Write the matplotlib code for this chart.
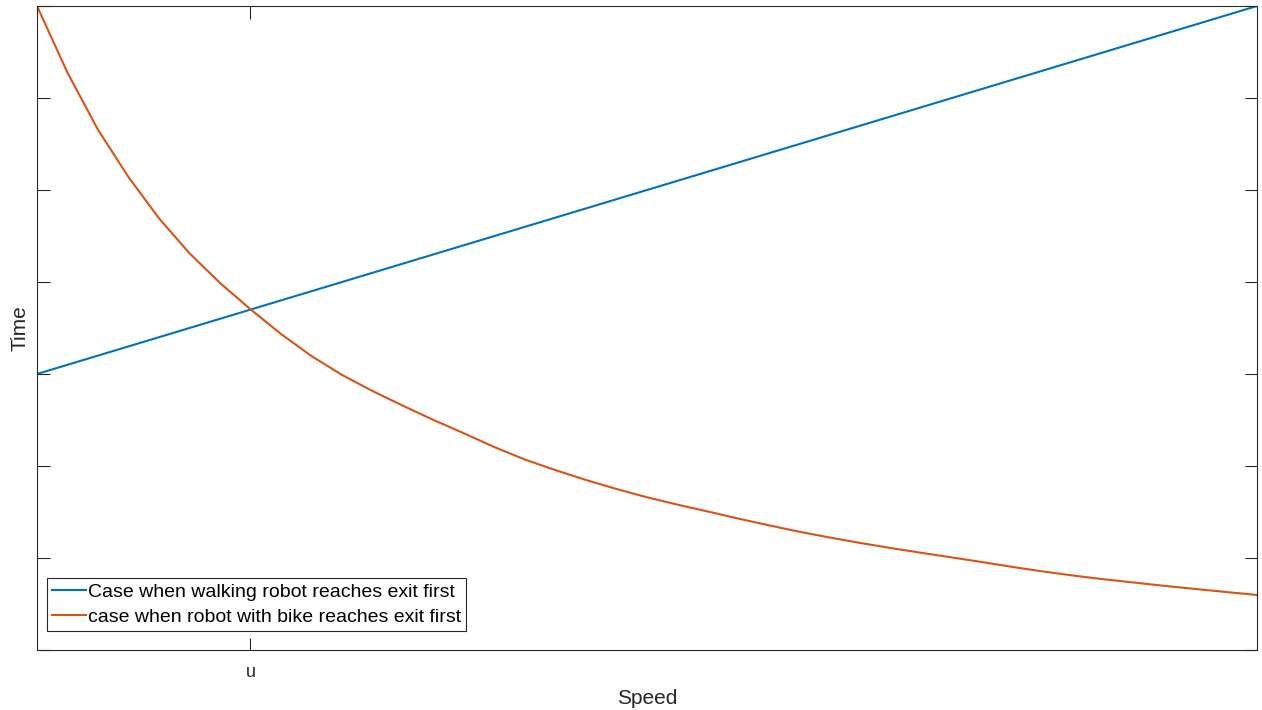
import matplotlib
matplotlib.use("Agg")
import matplotlib.pyplot as plt

plt.rcParams['font.family'] = ['Liberation Sans', 'DejaVu Sans']

# Data (x index 0..40, u at index 7)
speed_idx = list(range(41))
walk_x = [0, 40]
walk_time = [3.0, 7.0]
bike_time = [7.0, 6.275, 5.655, 5.14, 4.692, 4.312, 3.99, 3.703, 3.435, 3.195,
             2.99, 2.815, 2.655, 2.50, 2.355, 2.205, 2.07, 1.955, 1.848, 1.75,
             1.66, 1.58, 1.505, 1.428, 1.355, 1.285, 1.222, 1.163, 1.108, 1.056,
             1.006, 0.955, 0.902, 0.853, 0.808, 0.768, 0.732, 0.696, 0.663, 0.630,
             0.598]
xtick_pos = [7]
xtick_labels = ['u']
ytick_pos = [0, 1, 2, 3, 4, 5, 6, 7]
labels = ['Case when walking robot reaches exit first',
          'case when robot with bike reaches exit first']

fig = plt.figure(figsize=(12.62, 7.10), dpi=100)
ax = fig.add_axes([37/1262, 60/710, 1220/1262, 644/710])

ax.plot(walk_x, walk_time, color='#0072BD', lw=1.5, label=labels[0])
ax.plot(speed_idx, bike_time, color='#D95319', lw=1.5, label=labels[1])

ax.set_xlim(0, 40)
ax.set_ylim(0, 7)
ax.set_xticks(xtick_pos)
ax.set_xticklabels(xtick_labels)
ax.set_yticks(ytick_pos)
ax.set_yticklabels([])

edge = '#262626'
for s in ax.spines.values():
    s.set_color(edge)
    s.set_linewidth(0.8)
ax.tick_params(direction='in', length=9, width=0.8, color=edge,
               top=True, right=True, labelsize=13, labelcolor=edge, pad=10)

ax.set_xlabel('Speed', fontsize=15, color=edge, labelpad=6)
ax.set_ylabel('Time', fontsize=15, color=edge)
ax.yaxis.set_label_coords(-8/1220, 0.5)

leg = ax.legend(loc='lower left', bbox_to_anchor=(10/1220, 19/644),
                borderaxespad=0, fancybox=False, fontsize=14,
                handlelength=1.7, handletextpad=0.12, labelspacing=0.38,
                borderpad=0.28, framealpha=1)
leg.get_frame().set_edgecolor(edge)
leg.get_frame().set_linewidth(0.8)

fig.savefig('out.png', dpi=100)
